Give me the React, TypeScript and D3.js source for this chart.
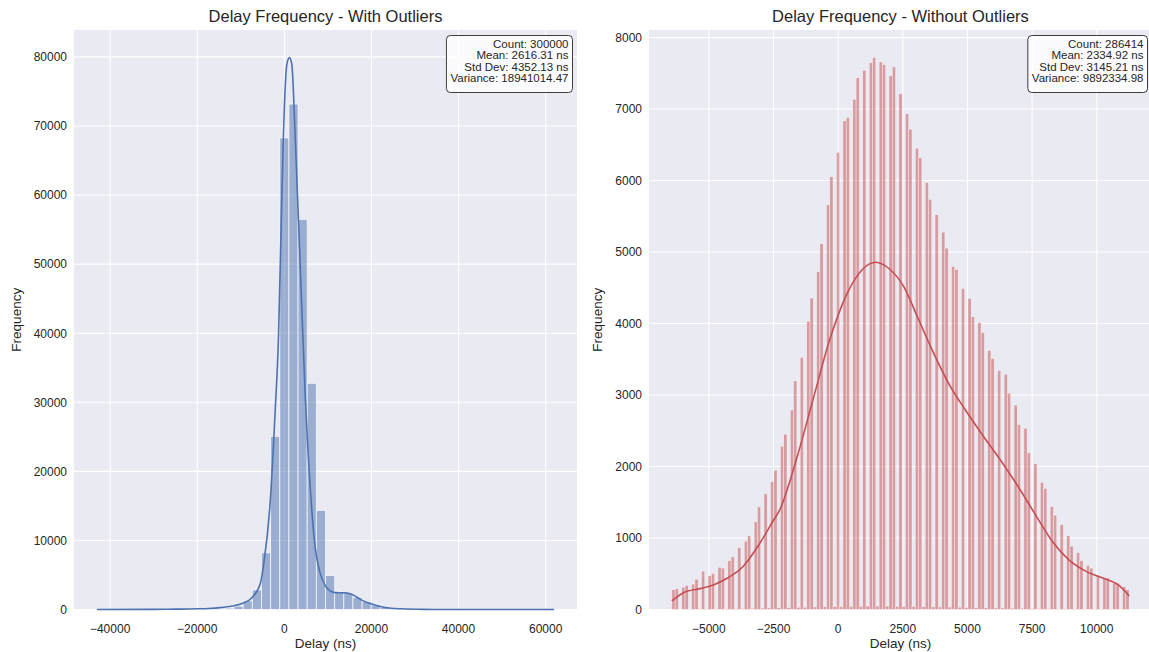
import React, { useRef, useEffect } from 'react';
import * as d3 from 'd3';

// ---- left panel: with outliers (50 bins) ----
const leftBinStart = -43050;
const leftBinWidth = 2100;
const leftCounts = [
  1, 2, 2, 3, 4, 5, 7, 10, 14, 20,
  30, 45, 70, 110, 200, 485, 1250, 2827, 8213, 25067,
  68267, 73173, 56480, 32747, 14347, 4907, 2560, 2293, 1748, 1117,
  631, 291, 146, 75, 40, 25, 15, 10, 7, 5,
  4, 3, 2, 2, 1, 1, 1, 1, 1, 1,
];
const leftKde: [number, number][] = [
  [-43050, 0], [-30000, 20], [-25000, 50], [-20000, 100], [-17400, 150], [-14700, 270],
  [-12000, 500], [-9700, 870], [-7400, 1750], [-5500, 3800], [-4780, 6400], [-3250, 15500],
  [-2100, 28800], [-1340, 39500], [-730, 55500], [-200, 68800], [570, 78900], [1170, 79900],
  [1720, 78900], [2470, 68800], [3620, 50100], [4760, 31500], [5900, 18100], [7050, 9100],
  [8200, 5300], [9350, 3500], [10490, 2700], [11640, 2450], [13900, 2400], [15460, 2200],
  [17750, 1360], [20040, 780], [23090, 290], [26900, 100], [32000, 20], [40000, 0], [61950, 0],
];
const leftStats = ['Count: 300000', 'Mean: 2616.31 ns', 'Std Dev: 4352.13 ns', 'Variance: 18941014.47'];
const leftXTicks = [-40000, -20000, 0, 20000, 40000, 60000];
const leftYTicks = [0, 10000, 20000, 30000, 40000, 50000, 60000, 70000, 80000];

// ---- right panel: without outliers (139 bins) ----
const rightBinStart = -6430;
const rightBinWidth = 127.2;
const rightCounts = [
  276, 292, 5, 313, 334, 5, 355, 423, 8, 537,
  8, 470, 506, 10, 590, 579, 12, 683, 736, 15,
  866, 15, 955, 1033, 18, 1226, 1435, 20, 1617, 22,
  1789, 1946, 25, 2285, 2452, 28, 2791, 3198, 30, 3526,
  32, 4032, 4356, 35, 4726, 5117, 38, 5660, 6056, 40,
  6396, 42, 6834, 6881, 45, 7136, 7439, 45, 7543, 48,
  7648, 7720, 48, 7658, 7621, 48, 7465, 7590, 45, 7214,
  45, 6933, 6719, 42, 6453, 6317, 40, 5973, 5738, 38,
  5524, 36, 5279, 5055, 34, 4799, 4757, 32, 4491, 30,
  4351, 4095, 28, 4012, 3876, 26, 3626, 3511, 24, 3344,
  22, 3292, 3026, 20, 2859, 2587, 18, 2535, 2191, 15,
  2040, 14, 1779, 1695, 12, 1440, 1320, 10, 1189, 10,
  1033, 887, 8, 798, 683, 7, 616, 579, 6, 475,
  6, 433, 443, 5, 370, 365, 4, 318, 276,
];
const rightKde: [number, number][] = [
  [-6430, 120], [-5980, 235], [-5337, 292], [-4824, 344], [-4309, 433], [-3667, 605],
  [-3025, 929], [-2511, 1241], [-2254, 1398], [-1612, 2102], [-971, 2937], [-328, 3772],
  [316, 4398], [956, 4763], [1445, 4857], [1985, 4763], [2563, 4500], [3013, 4137],
  [3654, 3615], [4297, 3146], [4940, 2780], [5580, 2441], [6351, 2050], [6994, 1700],
  [7637, 1320], [8277, 955], [8921, 694], [9565, 537], [10204, 443], [10848, 340], [11250, 190],
];
const rightStats = ['Count: 286414', 'Mean: 2334.92 ns', 'Std Dev: 3145.21 ns', 'Variance: 9892334.98'];
const rightXTicks = [-5000, -2500, 0, 2500, 5000, 7500, 10000];
const rightYTicks = [0, 1000, 2000, 3000, 4000, 5000, 6000, 7000, 8000];

const FONT = '"Liberation Sans", Arial, "DejaVu Sans", sans-serif';
const INK = '#262626';

function drawPanel(svg, p) {
  const top = 30;
  const bottom = 609.5;
  const n = p.counts.length;
  const lo = p.binStart;
  const hi = p.binStart + n * p.binWidth;
  const pad = (hi - lo) * 0.05;

  const x = d3.scaleLinear().domain([lo - pad, hi + pad]).range([p.left, p.right]);
  const yMax = Math.max(d3.max(p.counts), d3.max(p.kde, d => d[1])) * 1.05;
  const y = d3.scaleLinear().domain([0, yMax]).range([bottom, top]);

  const g = svg.append('g').style('font-family', FONT);

  g.append('rect')
    .attr('x', p.left).attr('y', top)
    .attr('width', p.right - p.left).attr('height', bottom - top)
    .attr('fill', '#EAEAF2');

  // grid
  g.selectAll('.gx').data(p.xTicks).join('line')
    .attr('x1', d => x(d)).attr('x2', d => x(d))
    .attr('y1', top).attr('y2', bottom)
    .attr('stroke', '#fff').attr('stroke-width', 1.1);
  g.selectAll('.gy').data(p.yTicks).join('line')
    .attr('x1', p.left).attr('x2', p.right)
    .attr('y1', d => y(d)).attr('y2', d => y(d))
    .attr('stroke', '#fff').attr('stroke-width', 1.1);

  // histogram bars
  g.append('g').selectAll('rect').data(p.counts).join('rect')
    .attr('x', (d, i) => x(lo + i * p.binWidth))
    .attr('width', (d, i) => x(lo + (i + 1) * p.binWidth) - x(lo + i * p.binWidth))
    .attr('y', d => y(d))
    .attr('height', d => bottom - y(d))
    .attr('fill', p.color).attr('fill-opacity', 0.5)
    .attr('stroke', '#fff').attr('stroke-opacity', 0.75)
    .attr('stroke-width', p.edgeWidth);

  // kde line
  const line = d3.line()
    .x(d => x(d[0]))
    .y(d => y(d[1]))
    .curve(d3.curveMonotoneX);
  g.append('path')
    .datum(p.kde)
    .attr('fill', 'none')
    .attr('stroke', p.color)
    .attr('stroke-width', 1.6)
    .attr('d', line);

  // tick labels
  const fmt = d3.format('d');
  g.selectAll('.tx').data(p.xTicks).join('text')
    .attr('x', d => x(d)).attr('y', 632.5)
    .attr('text-anchor', 'middle')
    .attr('font-size', 12).attr('fill', INK)
    .text(d => fmt(d));
  g.selectAll('.ty').data(p.yTicks).join('text')
    .attr('x', p.left - 7).attr('y', d => y(d) + 4.3)
    .attr('text-anchor', 'end')
    .attr('font-size', 12).attr('fill', INK)
    .text(d => fmt(d));

  const cx = (p.left + p.right) / 2;
  g.append('text')
    .attr('x', cx).attr('y', 647.5)
    .attr('text-anchor', 'middle')
    .attr('font-size', 13.5).attr('fill', INK)
    .text('Delay (ns)');
  g.append('text')
    .attr('transform', `translate(${p.left - p.ylabelOffset},${(top + bottom) / 2}) rotate(-90)`)
    .attr('text-anchor', 'middle')
    .attr('font-size', 13.5).attr('fill', INK)
    .text('Frequency');
  g.append('text')
    .attr('x', cx).attr('y', 22)
    .attr('text-anchor', 'middle')
    .attr('font-size', 16.5).attr('fill', INK)
    .text(p.title);

  // stats box
  const boxRight = p.right - 4.5;
  const textX = boxRight - 4;
  const box = g.append('g');
  const bg = box.append('rect');
  const texts = box.selectAll('text').data(p.stats).join('text')
    .attr('x', textX).attr('y', (d, i) => top + 17.5 + i * 11.5)
    .attr('text-anchor', 'end')
    .attr('font-size', 11.5).attr('fill', INK)
    .text(d => d);
  let maxW = 0;
  texts.each(function () {
    maxW = Math.max(maxW, (this as SVGTextElement).getComputedTextLength());
  });
  const bTop = top + 5.5;
  const bBottom = top + 17.5 + (p.stats.length - 1) * 11.5 + 10.5;
  bg.attr('x', textX - maxW - 4).attr('y', bTop)
    .attr('width', boxRight - (textX - maxW - 4)).attr('height', bBottom - bTop)
    .attr('rx', 4).attr('ry', 4)
    .attr('fill', '#fff').attr('fill-opacity', 0.8)
    .attr('stroke', '#000').attr('stroke-opacity', 0.75).attr('stroke-width', 1);
}

const App = () => {
  const chartRef = useRef<SVGSVGElement>(null);

  useEffect(() => {
    if (!chartRef.current) return;
    const svg = d3.select(chartRef.current);
    svg.selectAll('*').remove();

    drawPanel(svg, {
      title: 'Delay Frequency - With Outliers',
      binStart: leftBinStart, binWidth: leftBinWidth, counts: leftCounts, kde: leftKde,
      color: '#4C72B0', stats: leftStats, xTicks: leftXTicks, yTicks: leftYTicks,
      left: 74, right: 577, edgeWidth: 0.9, ylabelOffset: 53,
    });
    drawPanel(svg, {
      title: 'Delay Frequency - Without Outliers',
      binStart: rightBinStart, binWidth: rightBinWidth, counts: rightCounts, kde: rightKde,
      color: '#C44E52', stats: rightStats, xTicks: rightXTicks, yTicks: rightYTicks,
      left: 649, right: 1152, edgeWidth: 0.5, ylabelOffset: 47,
    });
  }, []);

  return (
    <svg ref={chartRef} width={1149} height={652}
      style={{ position: 'absolute', left: 0, top: 0, background: '#fff' }} />
  );
};

export default App;
